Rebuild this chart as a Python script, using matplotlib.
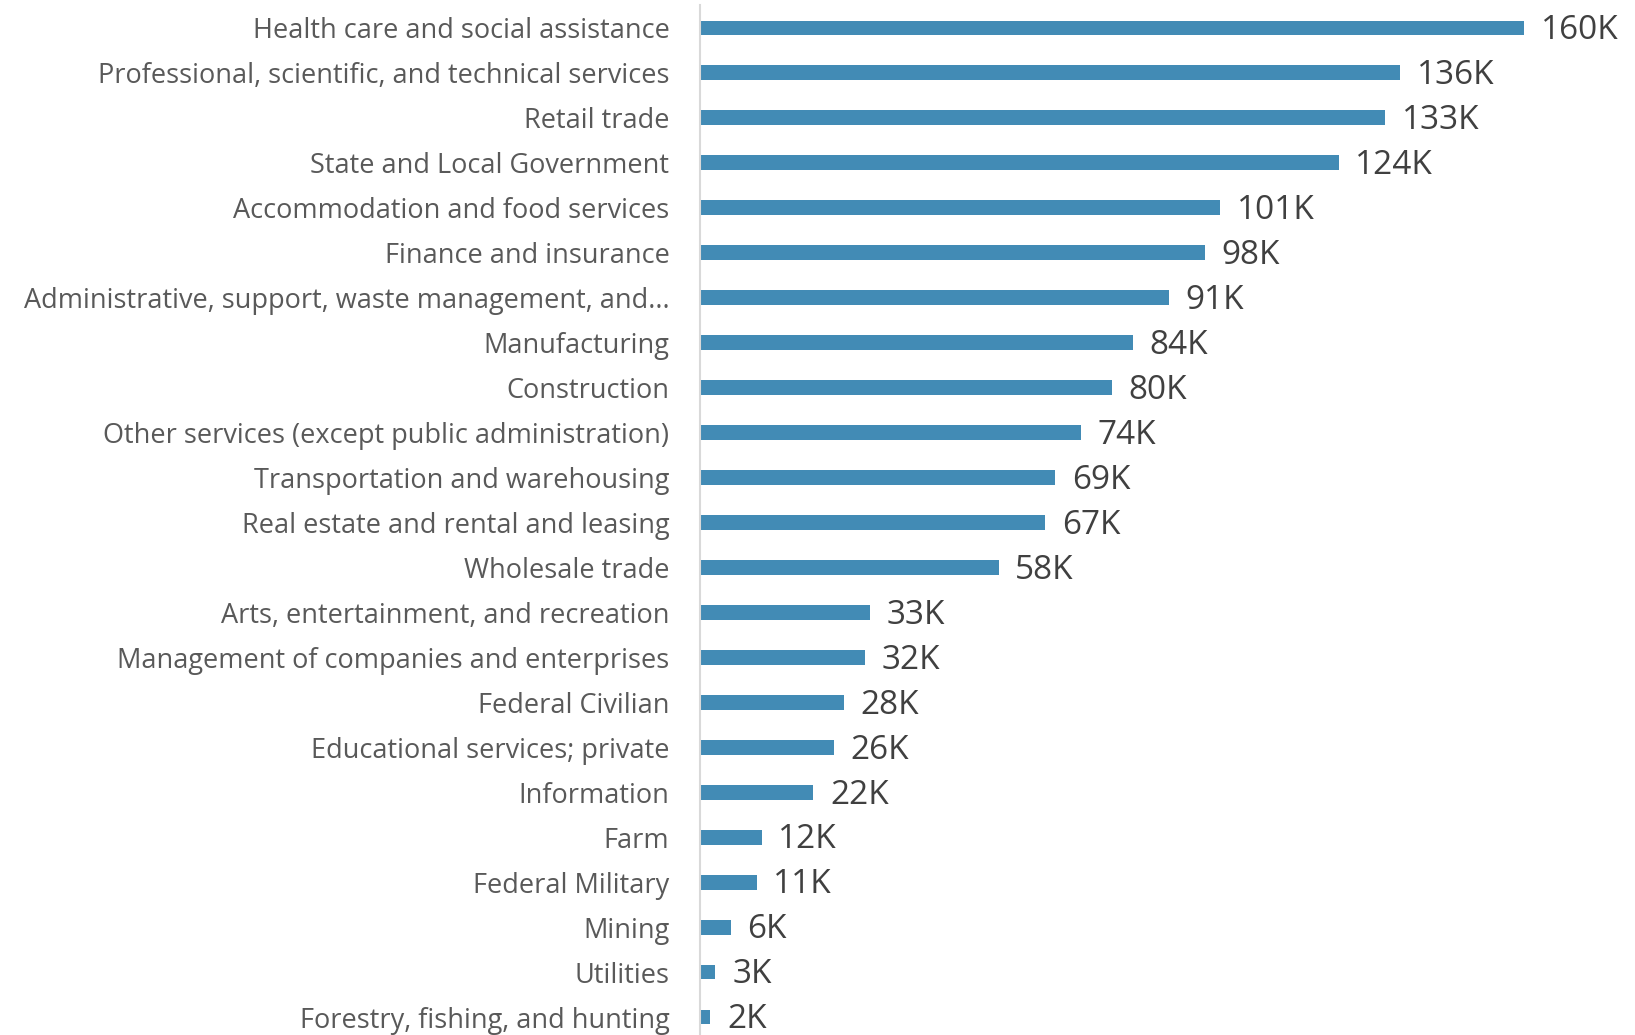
import matplotlib.pyplot as plt

industries = [
    "Health care and social assistance",
    "Professional, scientific, and technical services",
    "Retail trade",
    "State and Local Government",
    "Accommodation and food services",
    "Finance and insurance",
    "Administrative, support, waste management, and...",
    "Manufacturing",
    "Construction",
    "Other services (except public administration)",
    "Transportation and warehousing",
    "Real estate and rental and leasing",
    "Wholesale trade",
    "Arts, entertainment, and recreation",
    "Management of companies and enterprises",
    "Federal Civilian",
    "Educational services; private",
    "Information",
    "Farm",
    "Federal Military",
    "Mining",
    "Utilities",
    "Forestry, fishing, and hunting",
]
jobs_k = [160, 136, 133, 124, 101, 98, 91, 84, 80, 74, 69, 67, 58,
          33, 32, 28, 26, 22, 12, 11, 6, 3, 2]

plt.rcParams["font.family"] = ["Open Sans", "DejaVu Sans"]

fig = plt.figure(figsize=(16.35, 10.35), dpi=100)
ax = fig.add_axes([700 / 1635, 0.0, 1 - 700 / 1635, 1 - 5 / 1035])

ypos = list(range(len(industries)))
ax.barh(ypos, jobs_k, height=0.33, color="#428BB5")

for y, v in zip(ypos, jobs_k):
    ax.annotate(f"{v}K", xy=(v, y), xytext=(12, -2), textcoords="offset points",
                va="center", ha="left", fontsize=24, color="#404040",
                annotation_clip=False)

ax.set_yticks(ypos)
ax.set_yticklabels(industries, fontsize=19.5, color="#595959")
ax.tick_params(axis="y", length=0, pad=22)
ax.set_xticks([])
ax.set_xlim(0, (1635 - 700) / 824 * 160)
ax.set_ylim(22.4, -0.51)

for side in ["top", "right", "bottom"]:
    ax.spines[side].set_visible(False)
ax.spines["left"].set_color("#D9D9D9")
ax.spines["left"].set_linewidth(1.5)

fig.savefig("out.png", dpi=100)
plt.close(fig)
